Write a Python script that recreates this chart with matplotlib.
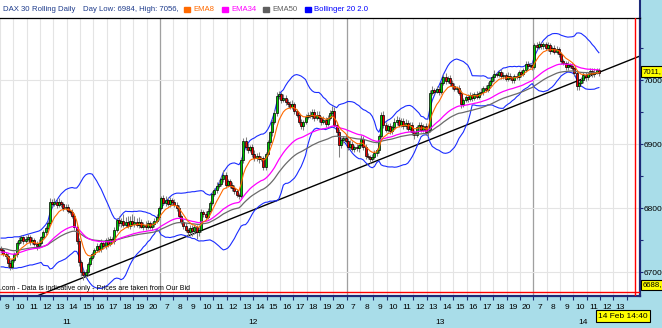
import matplotlib.pyplot as plt
import numpy as np
import pandas as pd
from matplotlib.transforms import blended_transform_factory

# 10-minute closes, DAX 30, 11 Feb 09:00 -> 14 Feb 12:00
closes = [
    6734, 6728, 6725, 6714, 6708, 6718, 6728, 6745, 6750, 6754,
    6748, 6752, 6755, 6747, 6750, 6744, 6740, 6746, 6754, 6762,
    6768, 6777, 6810, 6806, 6810, 6804, 6810, 6806, 6800, 6802,
    6796, 6793, 6788, 6770, 6748, 6715, 6700, 6695, 6700, 6712,
    6722, 6728, 6735, 6740, 6736, 6745, 6740, 6750, 6744, 6752,
    6748, 6765, 6781, 6776, 6779, 6774, 6778, 6772, 6780, 6775,
    6778, 6773, 6778, 6771, 6774, 6770, 6776, 6771, 6775, 6780,
    6786, 6800, 6815, 6808, 6813, 6806, 6812, 6810, 6804, 6800,
    6788, 6778, 6772, 6766, 6762, 6768, 6764, 6770, 6762, 6766,
    6794, 6790, 6786, 6796, 6808, 6822, 6828, 6835, 6838, 6846,
    6852, 6836, 6842, 6836, 6832, 6826, 6820, 6818, 6875, 6905,
    6896, 6890, 6895, 6884, 6878, 6882, 6876, 6878, 6864, 6885,
    6903, 6918, 6935, 6948, 6975, 6978, 6968, 6972, 6966, 6962,
    6958, 6962, 6952, 6945, 6935, 6928, 6935, 6942, 6946, 6944,
    6950, 6940, 6946, 6940, 6934, 6938, 6932, 6940, 6948, 6952,
    6930, 6918, 6898, 6906, 6910, 6905, 6896, 6900, 6892, 6895,
    6893, 6898, 6908, 6895, 6882, 6880, 6877, 6880, 6886, 6890,
    6912, 6946, 6930, 6922, 6928, 6920, 6926, 6934, 6938, 6930,
    6936, 6928, 6933, 6924, 6930, 6918, 6914, 6926, 6930, 6922,
    6928, 6918, 6922, 6980, 6985, 6982, 6986, 6982, 6995, 7005,
    6998, 7003, 6996, 6990, 6986, 6988, 6980, 6962, 6968, 6974,
    6970, 6976, 6972, 6978, 6974, 6979, 6982, 6988, 6985, 6992,
    6998, 7004, 7010, 7008, 7012, 7006, 7008, 7002, 7007, 7003,
    7000, 7006, 7004, 7012, 7010, 7016, 7025, 7022, 7024, 7020,
    7055, 7052, 7056, 7053, 7056, 7050, 7054, 7046, 7050, 7044,
    7048, 7040, 7030, 7026, 7020, 7024, 7022, 7018, 7011, 6990,
    6996, 7000, 7008, 7004, 7010, 7014, 7009, 7012, 7015, 7011,
]
first_open = 6738
wick_hi = [
    3, 4, 3, 5, 4, 3, 4, 3, 5, 4, 3, 4, 5, 3, 4, 3, 4, 5, 3, 4, 4, 3, 5, 4, 6, 4, 5, 3, 4, 5,
    4, 3, 5, 4, 3, 5, 3, 4, 5, 4, 3, 4, 3, 5, 4, 6, 4, 3, 5, 4, 3, 5, 4, 6, 5, 12, 8, 10, 7, 11,
    9, 6, 8, 5, 4, 6, 5, 4, 3, 5, 4, 3, 4, 5, 6, 4, 5, 3, 4, 5, 4, 3, 5, 4, 3, 5, 6, 4, 3, 5,
    4, 3, 5, 4, 3, 5, 4, 6, 5, 4, 8, 5, 4, 3, 5, 4, 3, 4, 3, 4, 6, 5, 4, 5, 6, 4, 5, 3, 4, 3,
    4, 3, 4, 5, 6, 5, 4, 6, 5, 4, 5, 6, 4, 3, 5, 4, 3, 5, 4, 6, 5, 4, 6, 5, 4, 5, 4, 6, 5, 8,
    6, 4, 5, 4, 3, 5, 4, 6, 5, 4, 5, 4, 6, 4, 5, 4, 3, 4, 5, 4, 3, 4, 6, 5, 4, 5, 4, 6, 5, 4,
    5, 4, 6, 5, 4, 5, 4, 3, 5, 4, 4, 5, 3, 4, 5, 3, 4, 5, 3, 5, 6, 4, 5, 4, 5, 3, 4, 5, 4, 3,
    4, 5, 3, 4, 5, 4, 5, 3, 4, 5, 3, 4, 5, 3, 4, 5, 4, 3, 5, 4, 3, 4, 5, 3, 4, 3, 5, 4, 3, 4,
    3, 4, 5, 4, 3, 4, 5, 4, 3, 4, 5, 3, 4, 3, 4, 5, 3, 4, 3, 4, 3, 4, 5, 4, 3, 5, 4, 6, 4, 3,
]
wick_lo = [
    4, 3, 5, 6, 5, 4, 3, 4, 3, 5, 4, 3, 4, 5, 3, 4, 5, 3, 4, 3, 4, 3, 4, 5, 3, 4, 3, 4, 5, 3,
    4, 3, 4, 5, 4, 5, 6, 8, 5, 4, 3, 4, 5, 3, 4, 5, 3, 4, 5, 4, 3, 4, 3, 4, 5, 4, 3, 4, 5, 3,
    4, 3, 4, 3, 5, 4, 3, 4, 5, 4, 3, 4, 3, 4, 5, 3, 4, 5, 3, 4, 4, 3, 5, 4, 6, 5, 8, 4, 10, 5,
    3, 4, 5, 3, 4, 3, 4, 5, 3, 4, 5, 4, 3, 4, 5, 4, 3, 4, 3, 4, 5, 4, 3, 4, 5, 4, 6, 3, 5, 4,
    3, 4, 5, 3, 4, 5, 4, 3, 5, 4, 3, 4, 5, 3, 4, 5, 6, 4, 3, 4, 5, 4, 3, 5, 4, 3, 5, 4, 3, 5,
    4, 5, 18, 4, 5, 4, 5, 4, 3, 5, 4, 5, 3, 4, 5, 4, 6, 4, 3, 5, 4, 3, 5, 4, 3, 5, 4, 3, 5, 4,
    3, 5, 4, 3, 5, 4, 6, 3, 5, 4, 3, 4, 5, 4, 3, 4, 3, 5, 4, 3, 4, 3, 5, 4, 3, 5, 4, 5, 4, 3,
    4, 3, 5, 4, 3, 4, 3, 5, 4, 3, 4, 3, 5, 4, 3, 4, 5, 3, 4, 3, 5, 4, 3, 4, 5, 3, 4, 5, 3, 4,
    3, 4, 3, 5, 4, 3, 4, 5, 3, 4, 3, 4, 5, 3, 4, 5, 4, 3, 4, 6, 5, 3, 4, 5, 4, 3, 5, 4, 3, 4,
]
# indicator values at the left edge (carried in from earlier data)
ema8_seed, ema34_seed, ema50_seed = 6725, 6731, 6737
bb_up_start = [6753, 6753, 6753, 6754, 6754, 6754, 6755, 6755, 6755, 6756,
               6757, 6758, 6759, 6760, 6761, 6762, 6763, 6764, 6766]
bb_lo_start = [6708, 6708, 6707, 6707, 6706, 6706, 6706, 6706, 6707, 6707,
               6708, 6709, 6710, 6711, 6711, 6712, 6713, 6714, 6715]

day_candles = [72, 84, 84, 30]
hour_labels = ([str(h) for h in range(9, 21)] + [str(h) for h in range(7, 21)] * 2
               + [str(h) for h in range(7, 14)])
day_labels = ["11", "12", "13", "14"]
day_label_hour = [4.5, 18.5, 32.5, 43.2]
trend_x = [16.15, 287.5]
trend_y = [6662.5, 7037.5]
last_price = "7011,"
low_price = "6688,"
stamp = "14 Feb 14:40"

plt.rcParams['font.family'] = ['Liberation Sans', 'DejaVu Sans']
FS = 6.0      # ticks
FT = 5.6      # title strip

BG = '#a9dde9'
NAVY = '#1c2a78'
TITLE_BLUE = '#1f3c8c'

close = pd.Series(closes, dtype=float)
opens = pd.concat([pd.Series([first_open], dtype=float), close[:-1]], ignore_index=True)
highs = np.maximum(opens, close) + np.array(wick_hi)
lows = np.minimum(opens, close) - np.array(wick_lo)
x = np.arange(len(closes))
SLOTS = 6  # candles per hour


def ema(seed, n):
    s = pd.concat([pd.Series([seed], dtype=float), close], ignore_index=True)
    return s.ewm(span=n, adjust=False).mean().iloc[1:].to_numpy()


ema8 = ema(ema8_seed, 8)
ema34 = ema(ema34_seed, 34)
ema50 = ema(ema50_seed, 50)
mid = close.rolling(20).mean()
sd = close.rolling(20).std(ddof=0)
bb_up = (mid + 2 * sd).to_numpy()
bb_lo = (mid - 2 * sd).to_numpy()
bb_up[:len(bb_up_start)] = bb_up_start
bb_lo[:len(bb_lo_start)] = bb_lo_start

W, H = 662, 328
fig = plt.figure(figsize=(W / 100, H / 100), dpi=100, facecolor=BG)

# title strip
tax = fig.add_axes([0, 1 - 18 / H, 640 / W, 18 / H])
tax.set_xlim(0, 640)
tax.set_ylim(18, 0)
tax.set_facecolor('white')
tax.set_xticks([])
tax.set_yticks([])
for s in ['top', 'left', 'bottom']:
    tax.spines[s].set_visible(False)
tax.spines['right'].set_color(NAVY)
tax.spines['right'].set_linewidth(1.5)
tax.text(3, 9.5, "DAX 30", color=TITLE_BLUE, fontsize=FT, va='center')
tax.text(32, 9.5, "Rolling Daily", color=TITLE_BLUE, fontsize=FT, va='center')
tax.text(83, 9.5, "Day Low: 6984, High: 7056,", color=TITLE_BLUE, fontsize=FT, va='center')
leg = [("EMA8", '#ff6a00', 184), ("EMA34", '#ff00ff', 222),
       ("EMA50", '#5f5f5f', 263), ("Bollinger 20 2.0", '#0000ff', 305)]
for lab, col, px in leg:
    tax.add_patch(plt.Rectangle((px, 7), 6, 5, color=col))
    tax.text(px + 9, 9.5, lab, color=col, fontsize=FT, va='center')

# main chart
ax = fig.add_axes([0, 1 - 296 / H, 640 / W, 278 / H])
ax.set_xlim(-0.5, 287.5)
ax.set_ylim(6662.5, 7096.9)
ax.set_facecolor('white')

bounds = np.arange(len(hour_labels) + 1) * SLOTS - 0.5
day_edges = np.cumsum(day_candles)[:-1] - 0.5
for b in bounds:
    ax.axvline(b, color='#e4e4e4', lw=0.8, zorder=0)
for b in day_edges:
    ax.axvline(b, color='#a0a0a0', lw=0.9, zorder=0)
for p in [6700, 6800, 6900, 7000]:
    ax.axhline(p, color='#e4e4e4', lw=0.8, zorder=0)

ax.plot(trend_x, trend_y, color='black', lw=1.0, zorder=2)
ax.plot(x, bb_up, color='#1a2cff', lw=0.8, zorder=3)
ax.plot(x, bb_lo, color='#1a2cff', lw=0.8, zorder=3)

ax.vlines(x, lows, highs, color='#808080', lw=0.75, zorder=4)
up = close >= opens
body = np.where(np.abs(close - opens) < 1.5, 1.5, close - opens)
ax.bar(x, body, bottom=opens, width=0.88,
       color=np.where(up, '#00d000', '#ee0000'), edgecolor='black', lw=0.5, zorder=5)

ax.plot(x, ema50, color='#6a6a6a', lw=0.9, zorder=6)
ax.plot(x, ema34, color='#ff00ff', lw=0.9, zorder=6)
ax.plot(x, ema8, color='#ff6a00', lw=0.8, zorder=6)

ax.axvline(285.3, color='red', lw=1.0, zorder=7)
ax.axhline(6668, color='red', lw=1.0, zorder=7)
ax.text(0, 0.027, ".com - Data is indicative only - Prices are taken from Our Bid",
        transform=ax.transAxes, fontsize=5.0, va='center', ha='left', color='black', zorder=6)

ax.spines['left'].set_visible(False)
ax.spines['top'].set_color('black')
ax.spines['top'].set_linewidth(0.9)
for s in ['right', 'bottom']:
    ax.spines[s].set_color(NAVY)
    ax.spines[s].set_linewidth(1.6)

ax.yaxis.tick_right()
ax.set_yticks([6700, 6800, 6900, 7000])
ax.set_yticklabels(['6700', '6800', '6900', '7000'])
ax.set_yticks(np.arange(6700, 7100, 50), minor=True)
ax.tick_params(axis='y', which='both', length=2.5, width=0.8, color=NAVY,
               labelsize=FS, pad=0.3)

ax.set_xticks(np.arange(len(hour_labels)) * SLOTS + 2.5)
ax.set_xticklabels(hour_labels)
ax.set_xticks(bounds, minor=True)
ax.tick_params(axis='x', which='major', length=0, labelsize=FS, pad=5.5)
ax.tick_params(axis='x', which='minor', length=3, width=0.8, color=NAVY)

tr = blended_transform_factory(ax.transData, ax.transAxes)
for lab, h in zip(day_labels, day_label_hour):
    ax.text(SLOTS * h + 2.5, -26 / 278, lab, transform=tr, fontsize=FS,
            ha='center', va='center', clip_on=False)

box = dict(boxstyle='square,pad=0.25', facecolor='#ffff00', edgecolor='black', lw=0.8)
fig.text(643 / W, 1 - 71.5 / H, last_price, fontsize=5.6, va='center', ha='left', bbox=box)
fig.text(643 / W, 1 - 285 / H, low_price, fontsize=5.6, va='center', ha='left', bbox=box)
fig.text(598 / W, 1 - 316 / H, stamp, fontsize=FS, va='center', ha='left', bbox=box)

fig.savefig("out.png", dpi=100, facecolor=BG)
